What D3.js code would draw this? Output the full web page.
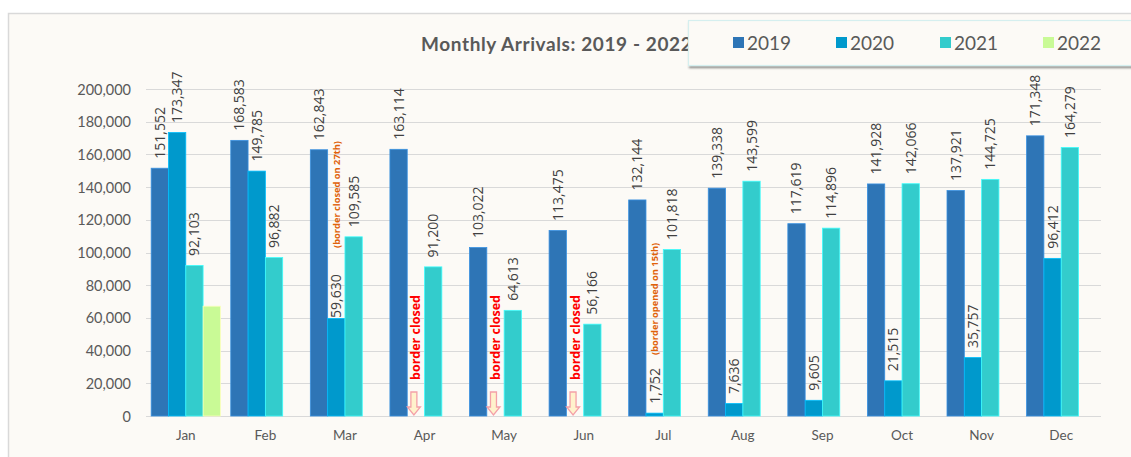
<!DOCTYPE html>
<html><head><meta charset="utf-8">
<script src="https://cdn.jsdelivr.net/npm/d3@7"></script>
<style>body{margin:0;background:#fff;} svg{display:block;}</style>
</head><body>
<svg id="c" width="1131" height="457"></svg>
<script>
const months = ["Jan","Feb","Mar","Apr","May","Jun","Jul","Aug","Sep","Oct","Nov","Dec"];
const years = ["2019","2020","2021","2022"];
const v2019 = [151552,168583,162843,163114,103022,113475,132144,139338,117619,141928,137921,171348];
const v2020 = [173347,149785,59630,null,null,null,1752,7636,9605,21515,35757,96412];
const v2021 = [92103,96882,109585,91200,64613,56166,101818,143599,114896,142066,144725,164279];
const v2022 = [67149,null,null,null,null,null,null,null,null,null,null,null];
const yTicks = [0,20000,40000,60000,80000,100000,120000,140000,160000,180000,200000];
const colors = ["#2E75B6","#0099CC","#33CCCC","#C9FA96"];
const closedMonths = ["Apr","May","Jun"];
const notes = [{month:"Mar", text:"(border closed on 27th)"},
               {month:"Jul", text:"(border opened on 15th)"}];

const series = [v2019,v2020,v2021,v2022];
const svg = d3.select("#c");
const fmt = d3.format(",");

// panel
svg.append("rect").attr("x",8.5).attr("y",13.5).attr("width",1200).attr("height",500)
  .attr("fill","#FCFAF6").attr("stroke","#D9D9D9").attr("stroke-width",1.5);

const x0 = d3.scaleBand().domain(months).range([146,1101]).paddingInner(0.13).paddingOuter(0.065);
const x1 = d3.scaleBand().domain(years).range([0,x0.bandwidth()]);
const y = d3.scaleLinear().domain([0,200000]).range([416,89]);

// grid
svg.append("g").selectAll("line").data(yTicks).join("line")
  .attr("x1",146).attr("x2",1101).attr("y1",d=>Math.round(y(d))+0.5).attr("y2",d=>Math.round(y(d))+0.5)
  .attr("stroke","#D9D9D9").attr("stroke-width",1.2);

// y axis labels
const yAxis = d3.axisLeft(y).tickValues(yTicks).tickFormat(fmt).tickSize(0).tickPadding(0);
const ga = svg.append("g").attr("transform","translate(131,0)").call(yAxis);
ga.select(".domain").remove();
ga.selectAll("text").attr("font-family","Lato, 'Open Sans', sans-serif").attr("font-size",14.5).attr("fill","#595959").attr("dy","0.35em");

// x axis labels
const xAxis = d3.axisBottom(x0).tickSize(0).tickPadding(0);
const gx = svg.append("g").attr("transform","translate(0,416)").call(xAxis);
gx.select(".domain").remove();
gx.selectAll("text").attr("font-family","Lato, 'Open Sans', sans-serif").attr("font-size",13.5).attr("fill","#595959").attr("dy","1.75em");

// bars
const flat = [];
months.forEach((m,i)=>years.forEach((yr,j)=>{ if(series[j][i]!=null) flat.push({m,yr,j,v:series[j][i]}); }));
svg.append("g").selectAll("rect").data(flat).join("rect")
  .attr("x",d=>x0(d.m)+x1(d.yr)).attr("width",x1.bandwidth())
  .attr("y",d=>y(d.v)).attr("height",d=>y(0)-y(d.v))
  .attr("fill",d=>colors[d.j]).attr("stroke",d=>d3.color(colors[d.j]).brighter(0.6)).attr("stroke-width",0.8);

// value labels
svg.append("g").selectAll("text").data(flat.filter(d=>d.yr!=="2022")).join("text")
  .attr("transform",d=>{
    const gap = (d.m==="Mar" && d.yr==="2020") ? 0.5 : 9.5;
    return `translate(${x0(d.m)+x1(d.yr)+x1.bandwidth()/2+5},${y(d.v)-gap}) rotate(-90)`;})
  .attr("font-family","'Open Sans', 'Noto Sans', sans-serif").attr("font-size",14).attr("fill","#404040")
  .text(d=>fmt(d.v));

// border closed annotations
const cx = m => x0(m)+x1("2020")+x1.bandwidth()/2;
const bc = svg.append("g");
closedMonths.forEach(m=>{
  bc.append("text").attr("transform",`translate(${cx(m)+4.5},${380}) rotate(-90)`)
    .attr("font-family","'Open Sans','Noto Sans',sans-serif").attr("font-weight","bold").attr("font-size",12.5)
    .attr("fill","#FF0000").text("border closed");
  const X = cx(m)-2, T = 392, B = 415;
  const pts = [[X-3,T],[X+3,T],[X+3,B-8],[X+6.5,B-8],[X,B],[X-6.5,B-8],[X-3,B-8]];
  bc.append("polygon").attr("points",pts.map(p=>p.join(",")).join(" "))
    .attr("fill","#FFF2CC").attr("stroke","#F4A0A8").attr("stroke-width",1.3);
});

// orange notes
notes.forEach(n=>{
  svg.append("text").attr("transform",`translate(${cx(n.month)+3.5},${n.month==="Mar"?248:355}) rotate(-90)`)
    .attr("font-family","'Open Sans','Noto Sans',sans-serif").attr("font-weight","bold").attr("font-size",9.3)
    .attr("fill","#E0620A").text(n.text);
});

// title
svg.append("text").attr("x",421).attr("y",51).attr("font-family","Lato, 'Open Sans', sans-serif")
  .attr("font-weight","bold").attr("font-size",19).attr("letter-spacing",0.6).attr("fill","#595959").text("Monthly Arrivals: 2019 - 2022");

// legend
const defs = svg.append("defs");
const f = defs.append("filter").attr("id","sh").attr("x","-5%").attr("y","-20%").attr("width","120%").attr("height","160%");
f.append("feDropShadow").attr("dx",1).attr("dy",2).attr("stdDeviation",1.2).attr("flood-color","#000").attr("flood-opacity",0.45);
svg.append("rect").attr("x",688.5).attr("y",20.5).attr("width",500).attr("height",45)
  .attr("fill","#FCFAF6").attr("stroke","#D5EFEF").attr("stroke-width",1.2).attr("filter","url(#sh)");
const lx = [733,836,940,1043];
const lg = svg.append("g").selectAll("g").data(years).join("g").attr("transform",(d,i)=>`translate(${lx[i]},43)`);
lg.append("rect").attr("x",0).attr("y",-6).attr("width",11).attr("height",11).attr("fill",(d,i)=>colors[i]);
lg.append("text").attr("x",14).attr("y",0).attr("dy","0.36em").attr("font-family","Lato, 'Open Sans', sans-serif")
  .attr("font-size",19).attr("fill","#595959").text(d=>d);
</script>
</body></html>
